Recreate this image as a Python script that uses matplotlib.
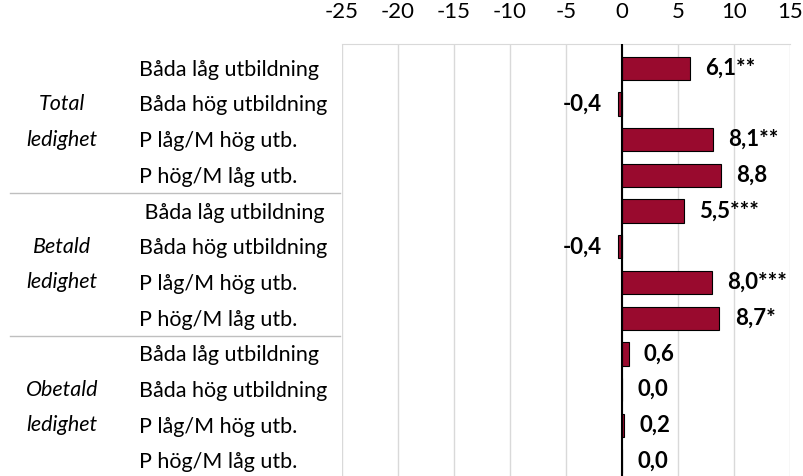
import numpy as np
import matplotlib.pyplot as plt
from matplotlib.transforms import blended_transform_factory
from matplotlib.lines import Line2D

# Data
groups = ["Total ledighet", "Betald ledighet", "Obetald ledighet"]
categories = ["Båda låg utbildning", "Båda hög utbildning", "P låg/M hög utb.", "P hög/M låg utb.",
              " Båda låg utbildning", "Båda hög utbildning", "P låg/M hög utb.", "P hög/M låg utb.",
              "Båda låg utbildning", "Båda hög utbildning", "P låg/M hög utb.", "P hög/M låg utb."]
values = [6.1, -0.4, 8.1, 8.8, 5.5, -0.4, 8.0, 8.7, 0.6, 0.0, 0.2, 0.0]
stars = ["**", "", "**", "", "***", "", "***", "*", "", "", "", ""]
xticks = [-25, -20, -15, -10, -5, 0, 5, 10, 15]

plt.rcParams['font.family'] = ['Lato', 'DejaVu Sans']
W, H = 804, 476
fs = 15.5
bar_color = '#990a2e'
grid_color = '#d9d9d9'

fig = plt.figure(figsize=(W / 100, H / 100), dpi=100)
ax = fig.add_axes([342 / W, 0, 448 / W, 1 - 44 / H])

y = np.arange(len(values))
ax.barh(y, values, height=0.65, color=bar_color, edgecolor='black', linewidth=0.8, zorder=3)
ax.axvline(0, color='black', lw=1.5, zorder=4)

ax.set_xlim(-25, 15)
ax.set_ylim(11.42, -0.68)
ax.set_xticks(xticks)
ax.set_xticklabels([str(t) for t in xticks], fontsize=16)
ax.xaxis.tick_top()
ax.tick_params(axis='x', length=0, pad=16)
ax.set_yticks([])
ax.grid(axis='x', color=grid_color, lw=1, zorder=0)
for s in ['left', 'right', 'bottom']:
    ax.spines[s].set_visible(False)
ax.spines['top'].set_color(grid_color)

# value labels
for yi, v, st in zip(y, values, stars):
    txt = f"{v:.1f}".replace('.', ',') + st
    if v < 0:
        ax.annotate(txt, (v, yi), xytext=(-11, 0), textcoords='offset points',
                    ha='right', va='center', fontsize=16, fontweight='bold')
    else:
        ax.annotate(txt, (v, yi), xytext=(11, 0), textcoords='offset points',
                    ha='left', va='center', fontsize=16, fontweight='bold')

# category and group labels on the left
tr = blended_transform_factory(fig.transFigure, ax.transData)
for yi, c in zip(y, categories):
    ax.text(139 / W, yi + 0.04, c, transform=tr, ha='left', va='center', fontsize=fs, clip_on=False)
for gi, g in enumerate(groups):
    first, second = g.split(' ')
    ax.text(62 / W, gi * 4 + 1, first, transform=tr, ha='center', va='center',
            fontsize=fs, style='italic', clip_on=False)
    ax.text(62 / W, gi * 4 + 2, second, transform=tr, ha='center', va='center',
            fontsize=fs, style='italic', clip_on=False)
for sep in [3.5, 7.5]:
    fig.add_artist(Line2D([10 / W, 340 / W], [sep, sep], transform=tr, color='#bfbfbf', lw=1))

fig.savefig('out.png', dpi=100)
